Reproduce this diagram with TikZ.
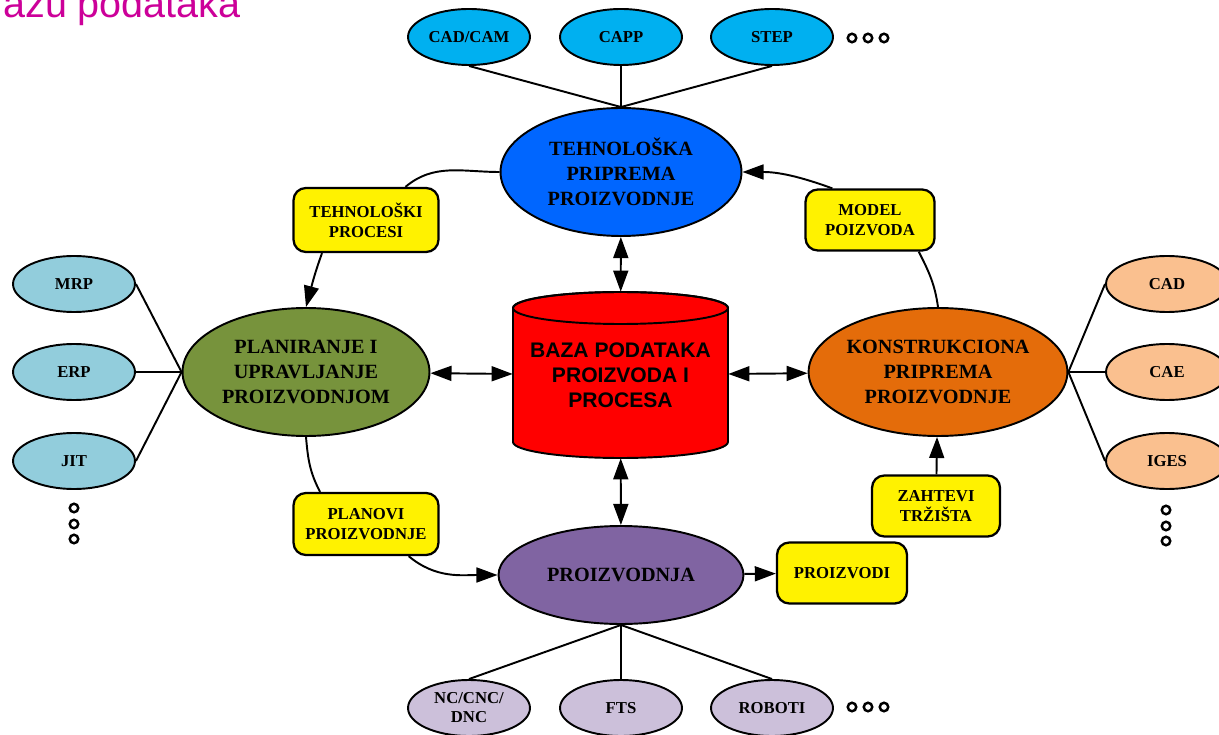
\documentclass[tikz,border=0pt]{standalone}
\usepackage{fontspec}
\setmainfont{Liberation Serif}
\setsansfont{Liberation Sans}
\usepackage{xcolor}
\definecolor{ColTitle}{RGB}{204,0,153}
\definecolor{ColTeh}{RGB}{0,102,255}
\definecolor{ColPlan}{RGB}{119,147,60}
\definecolor{ColKons}{RGB}{228,108,10}
\definecolor{ColProiz}{RGB}{128,100,162}
\definecolor{ColBaza}{RGB}{255,0,0}
\definecolor{ColTop}{RGB}{0,176,240}
\definecolor{ColLeft}{RGB}{146,205,220}
\definecolor{ColRight}{RGB}{250,192,143}
\definecolor{ColBottom}{RGB}{204,192,218}
\usepackage{tikz}
\usetikzlibrary{shapes}
\usetikzlibrary{arrows.meta}
\tikzstyle{Main}=[ellipse,draw=black,line width=1.1pt,inner sep=0pt,
align=center,font=\fontsize{11.5}{14.2}\selectfont\bfseries]
\tikzstyle{Sub}=[ellipse,draw=black,line width=1.1pt,inner sep=0pt,
minimum width=2.44cm,minimum height=1.12cm,align=center,
font=\fontsize{9.5}{10.8}\selectfont\bfseries]
\tikzstyle{Label}=[rectangle,rounded corners=7pt,draw=black,line width=1.3pt,
fill=yellow,inner sep=0pt,align=center,
font=\fontsize{9.5}{11.4}\selectfont\bfseries]
\tikzstyle{Edge}=[draw=black,line width=1.1pt]
\tikzstyle{Arrow}=[Edge,-{Triangle[length=12pt,width=8.5pt]}]
\tikzstyle{Both}=[Edge,{Triangle[length=12pt,width=8.5pt]}-{Triangle[length=12pt,width=8.5pt]}]
\tikzstyle{Dot}=[circle,draw=black,line width=1.4pt,fill=white,inner sep=0pt,
minimum size=0.17cm]

\begin{document}
\begin{tikzpicture}[x=0.02cm,y=0.02cm]
    \useasboundingbox (0,0) rectangle (1219,734);
    \node[anchor=base east,inner sep=0pt,text=ColTitle,
        font=\sffamily\fontsize{22.5}{27}\selectfont](title)at(241,716.5)
        {azu podataka};
    % main ellipses
    \node[Main,fill=ColTeh,minimum width=4.82cm,minimum height=2.56cm]
        (tehn)at(621,562){TEHNOLOŠKA\\PRIPREMA\\PROIZVODNJE};
    \node[Main,fill=ColPlan,minimum width=4.94cm,minimum height=2.56cm]
        (plan)at(306,362){PLANIRANJE I\\UPRAVLJANJE\\PROIZVODNJOM};
    \node[Main,fill=ColKons,minimum width=4.94cm,minimum height=2.56cm]
        (kons)at(938,362){KONSTRUKCIONA\\PRIPREMA\\PROIZVODNJE};
    \node[Main,fill=ColProiz,minimum width=4.9cm,minimum height=1.96cm]
        (proiz)at(621,159){PROIZVODNJA};
    % database
    \path[fill=ColBaza,draw=black,line width=1.1pt](513,426)--(513,292)
        arc[start angle=180,end angle=360,x radius=2.15cm,y radius=0.32cm]
        --(728,426)
        arc[start angle=0,end angle=180,x radius=2.15cm,y radius=0.32cm]
        --cycle;
    \draw[line width=1.1pt](620.5,426)ellipse[x radius=2.15cm,y radius=0.32cm];
    \node[inner sep=0pt,minimum width=4.3cm,minimum height=3.32cm,align=center,
        font=\sffamily\fontsize{12}{14.2}\selectfont\bfseries]
        (baza)at(620.5,359){BAZA PODATAKA\\PROIZVODA I\\PROCESA};
    % yellow labels
    \node[Label,minimum width=2.9cm,minimum height=1.28cm]
        (tp)at(366,514){TEHNOLOŠKI\\PROCESI};
    \node[Label,minimum width=2.58cm,minimum height=1.22cm]
        (mp)at(870,514){MODEL\\POIZVODA};
    \node[Label,minimum width=2.9cm,minimum height=1.24cm]
        (pp)at(366,210){PLANOVI\\PROIZVODNJE};
    \node[Label,minimum width=2.56cm,minimum height=1.22cm]
        (zt)at(936,228){ZAHTEVI\\TRŽIŠTA};
    \node[Label,minimum width=2.6cm,minimum height=1.22cm]
        (pv)at(842,161){PROIZVODI};
    % small ellipses
    \node[Sub,fill=ColTop](cadcam)at(469,697){CAD/CAM};
    \node[Sub,fill=ColTop](capp)at(621,697){CAPP};
    \node[Sub,fill=ColTop](step)at(772,697){STEP};
    \node[Sub,fill=ColLeft](mrp)at(74,450){MRP};
    \node[Sub,fill=ColLeft](erp)at(74,362){ERP};
    \node[Sub,fill=ColLeft](jit)at(74,273){JIT};
    \node[Sub,fill=ColRight](cad)at(1167,450){CAD};
    \node[Sub,fill=ColRight](cae)at(1167,362){CAE};
    \node[Sub,fill=ColRight](iges)at(1167,273){IGES};
    \node[Sub,fill=ColBottom](nc)at(469,26){NC/CNC/\\DNC};
    \node[Sub,fill=ColBottom](fts)at(621,26){FTS};
    \node[Sub,fill=ColBottom](rob)at(772,26){ROBOTI};
    % dots
    \node[Dot](t1)at(852,696){};
    \node[Dot](t2)at(868,696){};
    \node[Dot](t3)at(884,696){};
    \node[Dot](l1)at(74,226){};
    \node[Dot](l2)at(74,210){};
    \node[Dot](l3)at(74,195){};
    \node[Dot](r1)at(1166,224){};
    \node[Dot](r2)at(1166,208){};
    \node[Dot](r3)at(1166,193){};
    \node[Dot](b1)at(852,27){};
    \node[Dot](b2)at(868,27){};
    \node[Dot](b3)at(884,27){};
    % plain links
    \draw[Edge](cadcam.south)--(tehn.north);
    \draw[Edge](capp.south)--(tehn.north);
    \draw[Edge](step.south)--(tehn.north);
    \draw[Edge](mrp.east)--(plan.west);
    \draw[Edge](erp.east)--(plan.west);
    \draw[Edge](jit.east)--(plan.west);
    \draw[Edge](cad.west)--(kons.east);
    \draw[Edge](cae.west)--(kons.east);
    \draw[Edge](iges.west)--(kons.east);
    \draw[Edge](nc.north)--(proiz.south);
    \draw[Edge](fts.north)--(proiz.south);
    \draw[Edge](rob.north)--(proiz.south);
    % database arrows
    \draw[Both](tehn)--(baza);
    \draw[Both](baza)--(proiz);
    \draw[Both](plan)--(baza);
    \draw[Both](baza)--(kons);
    % cycle
    \draw[Edge](tehn.west)to[out=180,in=40](tp);
    \draw[Arrow](tp.217)to[out=-110,in=75](plan.north);
    \draw[Edge](plan.south)to[out=-85,in=118](pp.145);
    \draw[Arrow](pp.-37)to[out=-40,in=180](proiz.west);
    \draw[Arrow](proiz)--(pv);
    \draw[Arrow](zt)--(kons);
    \draw[Edge](kons.north)to[out=98,in=-63](mp.-33);
    \draw[Arrow](mp.140)to[out=160,in=0](tehn.east);
\end{tikzpicture}
\end{document}
